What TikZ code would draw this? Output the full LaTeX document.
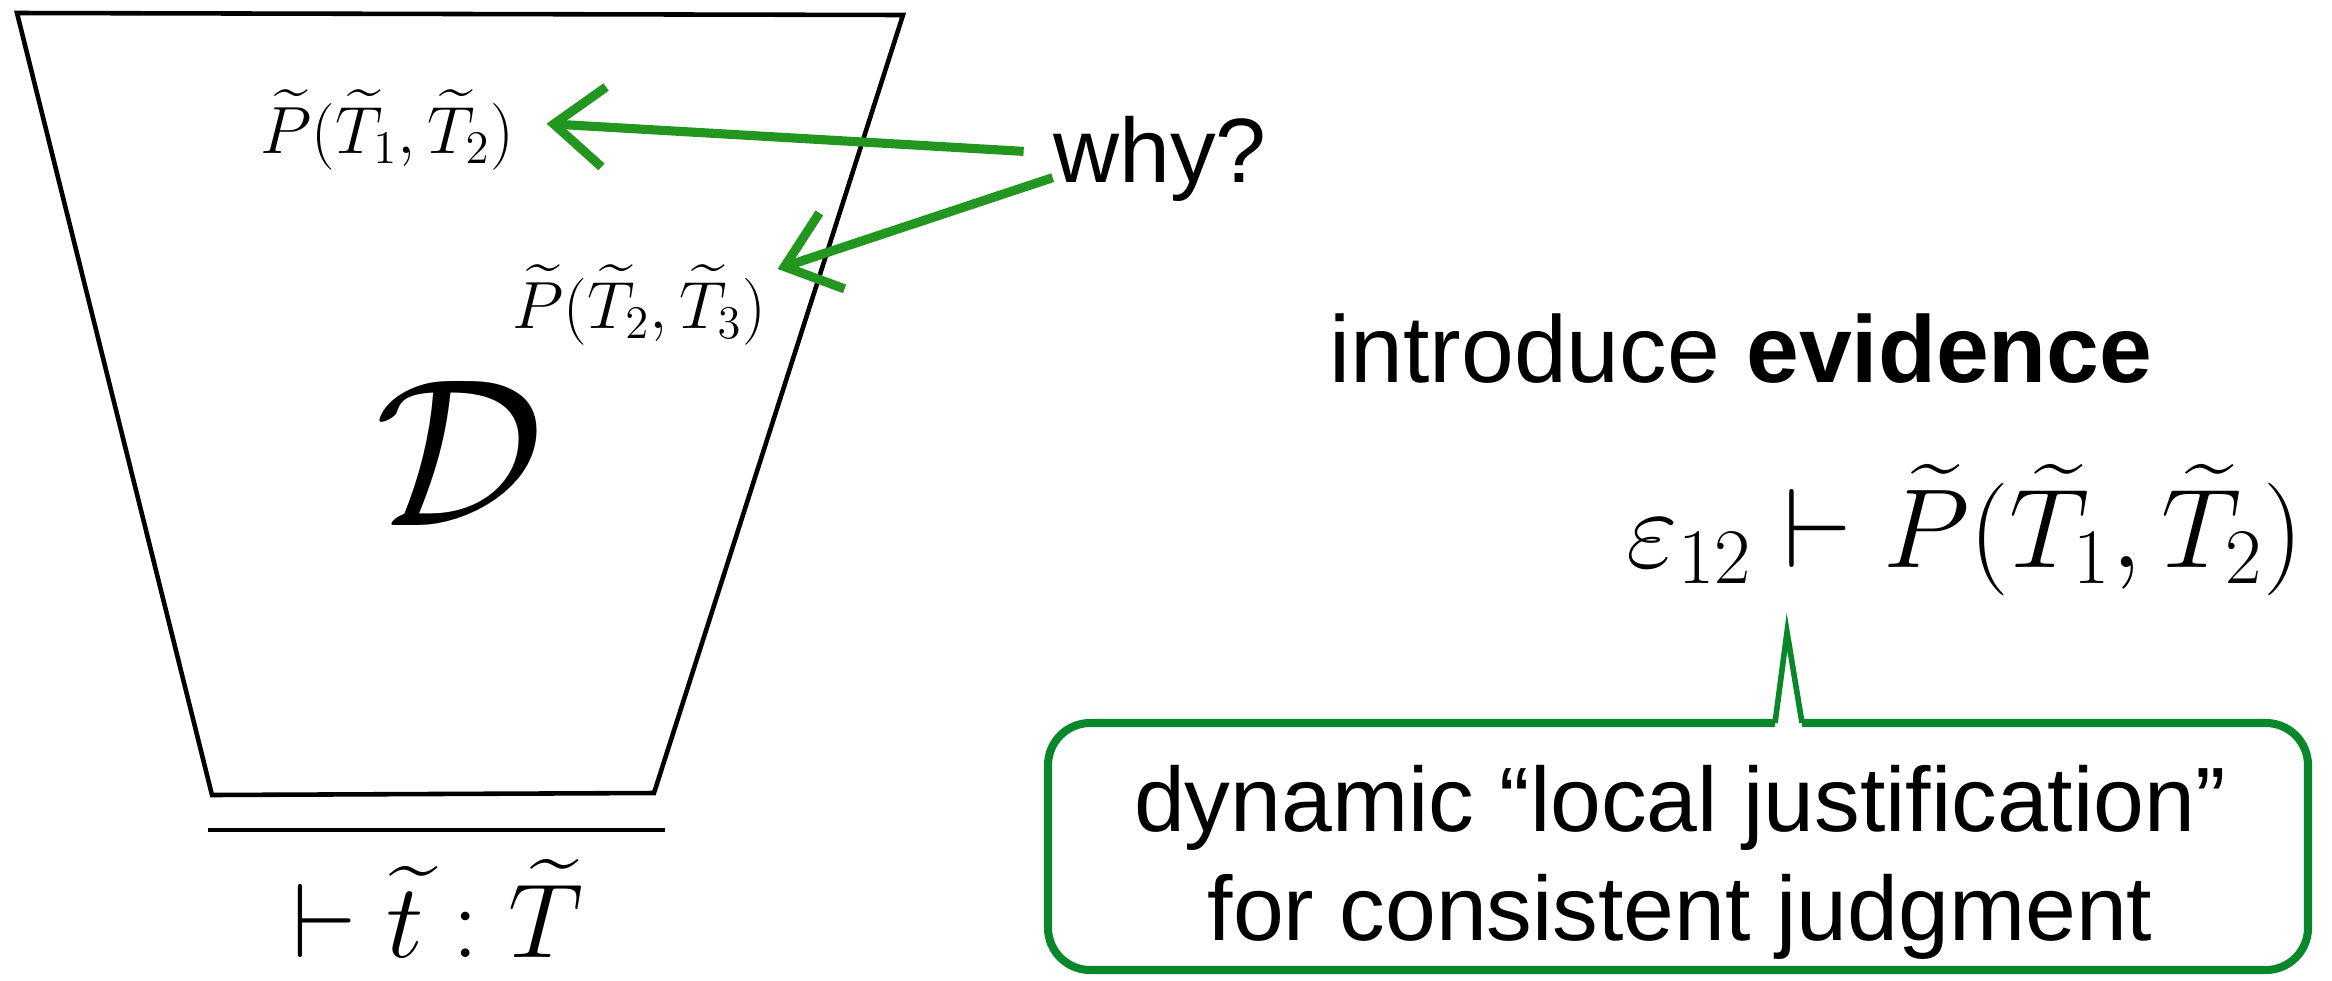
\RequirePackage{fix-cm}
\documentclass[tikz,border=0pt]{standalone}
\usepackage{amsmath}
\usepackage[no-math]{fontspec}
\newfontfamily\slidesans{Liberation Sans}
\usepackage{tikz}
\usetikzlibrary{arrows.meta,positioning,calc}
\definecolor{whygreen}{HTML}{23961F}
\definecolor{boxgreen}{HTML}{0A872A}
\tikzset{
  deriv/.style={line width=1.3pt,line join=miter},
  whyarrow/.style={-{Straight Barb[length=5mm,width=8mm,line width=2.6pt]},line width=2.6pt,whygreen},
  bubble/.style={draw=boxgreen,line width=2.3pt,rounded corners=12pt,inner sep=0pt},
  tailline/.style={draw=boxgreen,line width=1.6pt,line join=miter},
  slide/.style={font=\slidesans\fontsize{26}{31}\selectfont,inner sep=0pt},
  smallmath/.style={font=\fontsize{19}{23}\selectfont,inner sep=0pt},
  bigmath/.style={font=\fontsize{32}{38}\selectfont,inner sep=0pt}
}

\begin{document}
\begin{tikzpicture}[x=1cm,y=1cm]
\useasboundingbox (0,0) rectangle (23.32,9.80);
% derivation
\draw[deriv] (0.17,9.67) -- (9.03,9.65) -- (6.54,1.87) -- (2.12,1.85) -- cycle;
\draw[deriv] (2.08,1.50) -- (6.65,1.50);
\node[inner sep=0pt,font=\fontsize{60}{72}\selectfont,anchor=base] (der) at (4.60,4.55) {$\mathcal{D}$};
\node[bigmath,font=\fontsize{30}{36}\selectfont,anchor=base] (judg) at (4.38,0.23) {$\vdash \widetilde{t} : \widetilde{T}$};
\node[smallmath,anchor=base] (p12) at (3.87,8.27) {$\widetilde{P}(\widetilde{T}_1,\widetilde{T}_2)$};
\node[smallmath,anchor=base] (p23) at (6.39,6.52) {$\widetilde{P}(\widetilde{T}_2,\widetilde{T}_3)$};
\node[slide,anchor=base] (why) at (11.60,7.98) {why?};
\draw[whyarrow] ([shift={(-2.9mm,0.7mm)}]why.west) -- ([shift={(3.2mm,0.6mm)}]p12.east);
\draw[whyarrow] ([yshift=2.4mm]why.south west) -- ([shift={(1.1mm,-0.5mm)}]p23.north east);
% evidence
\node[slide,font=\slidesans\fontsize{27}{32}\selectfont,anchor=base] (intro) at (17.41,5.98) {introduce \textbf{evidence}};
\node[bigmath,anchor=base] (evid) at (19.65,4.13) {$\varepsilon_{12} \vdash \widetilde{P}(\widetilde{T}_1,\widetilde{T}_2)$};
\node[bubble,minimum width=12.6cm,minimum height=2.47cm] (box) at (16.78,1.335) {};
\coordinate (tip) at (17.87,3.48);
\fill[white] ([shift={(9.7mm,-1.4mm)}]box.north) rectangle ([shift={(12.4mm,1.4mm)}]box.north);
\draw[tailline] ([shift={(9.7mm,-0.4mm)}]box.north) -- (tip) -- ([shift={(12.4mm,-0.4mm)}]box.north);
\node[slide,align=center] (just) at (16.80,1.18) {dynamic “local justification”\\for consistent judgment};
\end{tikzpicture}
\end{document}
